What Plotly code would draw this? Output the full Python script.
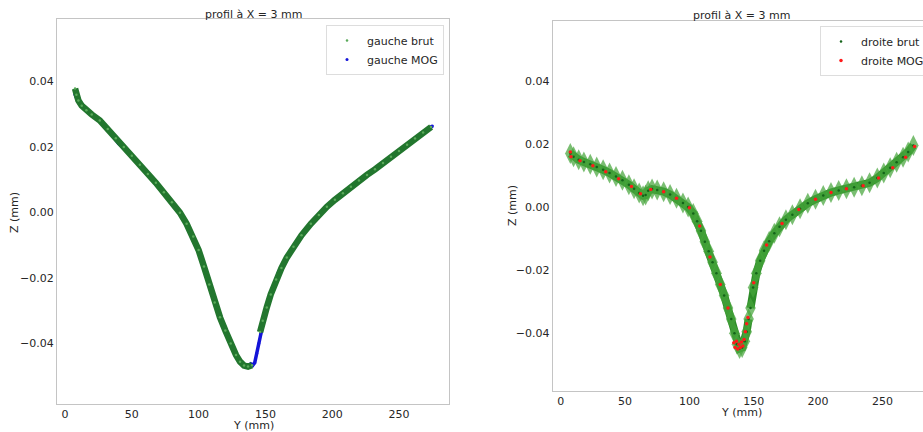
import plotly.graph_objects as go

W, H = 923, 432

# ---------------- data ----------------
title_text = "profil à X = 3 mm"
x_ticks = [0, 50, 100, 150, 200, 250]
z_ticks = [-0.04, -0.02, 0.0, 0.02, 0.04]

# left : gauche brut (raw)
g_brut_y = [7.5, 8.5, 10, 12.5, 16, 20, 26, 32, 38, 44, 50, 56, 62, 68, 74, 80, 86, 91, 96, 100,
            104, 108, 112, 116, 120, 124, 128, 131, 134, 137, 140, None,
            146, 148, 151, 154, 158, 162, 166, 171, 177, 184, 190, 196, 202, 208, 214, 220, 226,
            232, 238, 244, 250, 256, 262, 268, 274]
g_brut_z = [0.0377, 0.0358, 0.0341, 0.0325, 0.0311, 0.0298, 0.0280, 0.0254, 0.0226, 0.0199,
            0.0172, 0.0145, 0.0117, 0.0090, 0.0061, 0.0031, -0.0001, -0.0035, -0.0074, -0.0115,
            -0.0165, -0.0220, -0.0275, -0.0320, -0.0360, -0.0400, -0.0435, -0.0455, -0.0467,
            -0.0470, -0.0466, None,
            -0.0365, -0.0330, -0.0290, -0.0250, -0.0205, -0.0170, -0.0138, -0.0105, -0.0070,
            -0.0035, -0.0008, 0.0017, 0.0038, 0.0058, 0.0078, 0.0097, 0.0114, 0.0131, 0.0150,
            0.0169, 0.0187, 0.0206, 0.0225, 0.0243, 0.0260]

# left : gauche MOG
g_mog_y = [7.5, 8.5, 12, 20, 30, 40, 50, 60, 70, 80, 90, 100, 110, 120, 128, 133, 135, 137,
           139, 140.5, 142, 143.5, 145, 146.5, 150, 160, 175, 190, 205, 220, 235, 250, 265, 275]
g_mog_z = [0.0360, 0.0350, 0.0328, 0.0298, 0.0265, 0.0210, 0.0172, 0.0127, 0.0080, 0.0031,
           -0.0027, -0.0115, -0.0245, -0.0360, -0.0435, -0.0465, -0.0470, -0.0468, -0.0462,
           -0.0466, -0.0458, -0.0430, -0.0400, -0.0370, -0.0305, -0.0180, -0.0082, -0.0008,
           0.0048, 0.0097, 0.0143, 0.0187, 0.0234, 0.0263]

# right : droite brut (raw)
d_brut_y = [7.5, 10, 14, 18, 23, 28, 33, 38, 43, 48, 53, 57, 61, 64, 66, 68, 71, 75, 80, 85, 90,
            95, 99, 103, 106, 109, 112, 115, 118, 121, 124, 127, 130, 132.5, 135, 137, 139, 141,
            143, 144.5, 146, None,
            147.5, 149.5, 152, 155, 158, 162, 166, 170, 175, 180, 186, 192, 198, 204, 210, 216,
            222, 228, 234, 240, 246, 251, 256, 261, 266, 270, 274]
d_brut_z = [0.0170, 0.0160, 0.0150, 0.0143, 0.0136, 0.0127, 0.0118, 0.0108, 0.0097, 0.0085,
            0.0071, 0.0058, 0.0045, 0.0036, 0.0038, 0.0052, 0.0057, 0.0054, 0.0049, 0.0040,
            0.0028, 0.0013, 0.0000, -0.0020, -0.0045, -0.0075, -0.0110, -0.0140, -0.0175,
            -0.0210, -0.0245, -0.0280, -0.0320, -0.0355, -0.0400, -0.0435, -0.0448, -0.0445,
            -0.0425, -0.0395, -0.0355, None,
            -0.0320, -0.0255, -0.0210, -0.0170, -0.0138, -0.0108, -0.0083, -0.0062, -0.0040,
            -0.0024, -0.0005, 0.0012, 0.0025, 0.0037, 0.0046, 0.0053, 0.0058, 0.0063, 0.0068,
            0.0077, 0.0092, 0.0108, 0.0125, 0.0142, 0.0158, 0.0175, 0.0195]

# right : droite MOG
d_mog_y = [7.5, 8, 15, 25, 35, 45, 55, 62, 70, 80, 90, 100, 108, 116, 124, 130, 134.5, 135.5,
           136.5, 137.5, 138.5, 139.5, 140.5, 141.5, 142.5, 143.5, 144.5, 145.5, 150, 160, 172,
           185, 198, 210, 222, 235, 247, 258, 268, 275]
d_mog_z = [0.0175, 0.0160, 0.0147, 0.0131, 0.0112, 0.0090, 0.0065, 0.0042, 0.0056, 0.0049,
           0.0028, -0.0002, -0.0060, -0.0158, -0.0245, -0.0320, -0.0430, -0.0445, -0.0425,
           -0.0450, -0.0435, -0.0445, -0.0428, -0.0440, -0.0420, -0.0395, -0.0370, -0.0350,
           -0.0240, -0.0120, -0.0052, -0.0008, 0.0025, 0.0046, 0.0058, 0.0068, 0.0092, 0.0125,
           0.0158, 0.0192]

# ---------------- figure ----------------
GREEN_L = "rgb(34,118,46)"
GREEN_R = "rgb(45,140,40)"
GREEN_R2 = "rgba(70,165,60,0.72)"
BLUE = "#1414d8"
RED = "#ff1a1a"
TXT = "#262626"
FONT = "DejaVu Sans"


def px(x):  # page pixel -> paper fraction (x)
    return x / W


def py(y):  # page pixel -> paper fraction (y)
    return 1 - y / H


fig = go.Figure()

# left panel (MOG drawn first, underneath the raw band)
fig.add_trace(go.Scatter(x=g_mog_y, y=g_mog_z, mode="lines", showlegend=False,
                         line=dict(color=BLUE, width=3.5), xaxis="x", yaxis="y",
                         legendgroup="gm"))
fig.add_trace(go.Scatter(x=g_mog_y, y=g_mog_z, mode="markers", name="gauche MOG",
                         marker=dict(color=BLUE, size=3), xaxis="x", yaxis="y",
                         legend="legend", legendrank=2, legendgroup="gm"))
fig.add_trace(go.Scatter(x=g_brut_y, y=g_brut_z, mode="lines", showlegend=False,
                         line=dict(color=GREEN_L, width=6.5), xaxis="x", yaxis="y",
                         legendgroup="gb"))
fig.add_trace(go.Scatter(x=g_brut_y, y=g_brut_z, mode="markers", name="gauche brut",
                         marker=dict(color="rgb(90,170,90)", size=2.5), xaxis="x", yaxis="y",
                         legend="legend", legendrank=1, legendgroup="gb"))

# right panel
fig.add_trace(go.Scatter(x=d_brut_y, y=d_brut_z, mode="lines+markers", showlegend=False,
                         line=dict(color=GREEN_R, width=8),
                         marker=dict(symbol="diamond-tall", size=15, color=GREEN_R2,
                                     line=dict(width=0)),
                         xaxis="x2", yaxis="y2", legendgroup="db"))
fig.add_trace(go.Scatter(x=d_brut_y, y=d_brut_z, mode="markers", name="droite brut",
                         marker=dict(color="rgb(20,100,25)", size=2.5), xaxis="x2", yaxis="y2",
                         legend="legend2", legendrank=1, legendgroup="db"))
fig.add_trace(go.Scatter(x=d_mog_y, y=d_mog_z, mode="markers", name="droite MOG",
                         marker=dict(color=RED, size=3.5), xaxis="x2", yaxis="y2",
                         legend="legend2", legendrank=2))

axis_common = dict(showline=True, mirror=True, linecolor="#c4c4c4", linewidth=1,
                   ticks="", showgrid=False, zeroline=False, automargin=False,
                   tickfont=dict(family=FONT, size=11, color=TXT))

fig.update_layout(
    width=W, height=H,
    margin=dict(l=0, r=0, t=0, b=0, autoexpand=False),
    paper_bgcolor="white", plot_bgcolor="white",
    font=dict(family=FONT, size=11, color=TXT),
    xaxis=dict(domain=[px(57), px(449)], range=[-6, 287.4], anchor="y",
               tickvals=x_ticks, **axis_common),
    yaxis=dict(domain=[py(404), py(19)], range=[-0.0584, 0.0589], anchor="x",
               tickvals=z_ticks, tickformat=".2f", **axis_common),
    xaxis2=dict(domain=[px(552.7), 1.0], range=[-6.2, 281.5], anchor="y2",
                tickvals=x_ticks, **axis_common),
    yaxis2=dict(domain=[py(391), py(21.3)], range=[-0.0583, 0.0589], anchor="x2",
                tickvals=z_ticks, tickformat=".2f", **axis_common),
    legend=dict(x=px(444), xanchor="right", y=py(25), yanchor="top",
                bgcolor="white", bordercolor="#dddddd", borderwidth=1,
                font=dict(family=FONT, size=11, color=TXT), itemsizing="trace",
                itemwidth=30, tracegroupgap=0),
    legend2=dict(x=px(820), xanchor="left", y=py(26), yanchor="top",
                 bgcolor="white", bordercolor="#dddddd", borderwidth=1,
                 font=dict(family=FONT, size=11, color=TXT), itemsizing="trace",
                 itemwidth=30, tracegroupgap=0),
)


def ann(text, x, y, angle=0, size=11):
    fig.add_annotation(text=text, x=px(x), y=py(y), xref="paper", yref="paper",
                       showarrow=False, textangle=angle, xanchor="center", yanchor="middle",
                       font=dict(family=FONT, size=size, color=TXT))


ann(title_text, 253, 14)
ann(title_text, 741, 15.5)
ann("Y (mm)", 253, 425.5)
ann("Y (mm)", 741, 412)
ann("Z (mm)", 15, 212, angle=-90)
ann("Z (mm)", 512, 206, angle=-90)

# remove the page's default 8 px body margin so the figure fills the window exactly
fig.write_html("out.html", config={"displayModeBar": False},
               post_script="document.body.style.margin='0';document.body.style.overflow='hidden';")
